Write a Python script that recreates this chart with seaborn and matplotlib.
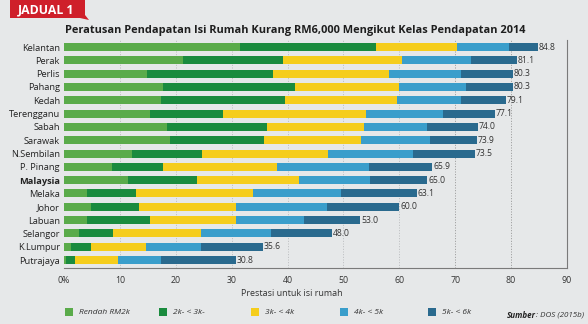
import matplotlib
matplotlib.use("Agg")
import matplotlib.pyplot as plt
from matplotlib.patches import Polygon, Rectangle
import seaborn as sns
import pandas as pd
import numpy as np

# ---- data -------------------------------------------------------------
states = ["Kelantan", "Perak", "Perlis", "Pahang", "Kedah", "Terengganu",
          "Sabah", "Sarawak", "N.Sembilan", "P. Pinang", "Malaysia", "Melaka",
          "Johor", "Labuan", "Selangor", "K.Lumpur", "Putrajaya"]

below_2k = [31.5, 21.3, 14.8, 17.8, 17.4, 15.4, 18.5, 19.0, 12.2, 8.6, 11.5, 4.1, 4.8, 4.2, 2.7, 1.2, 0.3]
k2_3k    = [24.4, 17.9, 22.6, 23.5, 22.1, 13.1, 17.9, 16.7, 12.5, 9.1, 12.3, 8.8, 8.6, 11.1, 6.0, 3.6, 1.6]
k3_4k    = [14.5, 21.2, 20.8, 18.7, 20.1, 25.6, 17.2, 17.5, 22.6, 20.5, 18.3, 21.0, 17.3, 15.5, 15.8, 9.9, 7.7]
k4_5k    = [9.2, 12.5, 12.8, 11.9, 11.4, 13.8, 11.4, 12.2, 15.1, 16.3, 12.7, 15.6, 16.3, 12.2, 12.6, 9.9, 7.8]
k5_6k    = [5.2, 8.2, 9.3, 8.4, 8.1, 9.2, 9.0, 8.5, 11.1, 11.4, 10.2, 13.6, 13.0, 10.0, 10.9, 11.0, 13.4]

totals = [84.8, 81.1, 80.3, 80.3, 79.1, 77.1, 74.0, 73.9, 73.5, 65.9, 65.0,
          63.1, 60.0, 53.0, 48.0, 35.6, 30.8]

classes = ["Rendah RM2k", "2k- < 3k-", "3k- < 4k", "4k- < 5k", "5k- < 6k"]
colors = ["#5aab4a", "#1a8b3e", "#f5cd1c", "#3a9ecb", "#2a6a8e"]
xticks = [0, 10, 20, 30, 40, 50, 60, 70, 80, 90]
xtick_labels = ["0%", "10", "20", "30", "40", "50", "60", "70", "80", "90"]

# ---- style ------------------------------------------------------------
bg = "#e6e8e9"
sns.set_theme(style="white")
plt.rcParams["font.family"] = ["Open Sans", "DejaVu Sans"]
plt.rcParams["figure.facecolor"] = bg
plt.rcParams["axes.facecolor"] = bg

W, H = 588, 324
fig = plt.figure(figsize=(W / 100, H / 100), dpi=100)
ax = fig.add_axes([64 / W, 1 - 268 / H, (567 - 64) / W, (268 - 40) / H])

# cumulative widths, drawn longest first so each shorter bar sits on top
segs = np.array([below_2k, k2_3k, k3_4k, k4_5k, k5_6k])
cum = np.cumsum(segs, axis=0)
df = pd.DataFrame({"state": states})
for i in range(len(classes)):
    df[f"c{i}"] = cum[i]

for i in reversed(range(len(classes))):
    sns.barplot(data=df, x=f"c{i}", y="state", order=states, orient="h",
                color=colors[i], saturation=1, width=0.6, linewidth=0,
                ax=ax, zorder=3)

# value labels at the bar ends
for yi, t in enumerate(totals):
    ax.text(t + 0.15, yi, f"{t:.1f}", va="center", ha="left",
            fontsize=6.2, color="#333333", zorder=4)

# axes
ax.set_xlim(0, 90)
ax.set_ylim(len(states) - 1 + 0.6, -0.53)
ax.set_xticks(xticks)
ax.set_xticklabels(xtick_labels)
ax.set_xlabel("")
ax.set_ylabel("")
ax.tick_params(axis="x", direction="out", length=4, width=0.6, color="#777777",
               labelsize=6.3, labelcolor="#333333", pad=2)
ax.tick_params(axis="y", length=0, labelsize=6.7, labelcolor="#222222", pad=3)
for lbl in ax.get_yticklabels():
    if lbl.get_text() == "Malaysia":
        lbl.set_fontweight("bold")

# dotted reference lines; 70 and 80 are stronger
for xv in xticks[1:-1]:
    strong = xv in (70, 80)
    ax.axvline(xv, linestyle=(0, (1.2, 2)), linewidth=0.6,
               color="#8a8a8a" if strong else "#b4b6b8", zorder=0)
ax.grid(False)
for side in ["top", "left"]:
    ax.spines[side].set_visible(False)
for side in ["bottom", "right"]:
    ax.spines[side].set_color("#7a7a7a")
    ax.spines[side].set_linewidth(0.8)

# title
fig.text(65 / W, 1 - 31 / H, "Peratusan Pendapatan Isi Rumah Kurang RM6,000 Mengikut Kelas Pendapatan 2014",
         fontsize=7.9, fontweight="bold", color="#1e1e1e", va="center", ha="left")

# red table tag
def px(x, y):
    return (x / W, 1 - y / H)

tag = Polygon([px(10, 0), px(85, 0), px(85, 15), px(89, 20), px(80, 18), px(10, 18)],
              closed=True, transform=fig.transFigure, facecolor="#cf1f2a",
              edgecolor="none")
fig.patches.append(tag)
fig.text(18 / W, 1 - 9.5 / H, "JADUAL 1", fontsize=8.8, fontweight="bold",
         color="white", va="center", ha="left")

# axis caption
fig.text(292 / W, 1 - 293 / H, "Prestasi untuk isi rumah", fontsize=6.5,
         color="#333333", ha="center", va="center")

# legend
leg_x = [65, 159, 251, 340, 428]
for x0, lab, col in zip(leg_x, classes, colors):
    fig.patches.append(Rectangle(px(x0, 316), 8 / W, 8 / H, transform=fig.transFigure,
                                 facecolor=col, edgecolor="none"))
    fig.text((x0 + 14) / W, 1 - 312 / H, lab, fontsize=6, style="italic",
             color="#333333", ha="left", va="center")

# source line: bold "Sumber" followed by the reference
src_bold = fig.text(507 / W, 1 - 315 / H, "Sumber", fontsize=5.8, style="italic",
                    fontweight="bold", color="#222222", ha="left", va="center")
fig.canvas.draw()
bb = src_bold.get_window_extent()
fig.text(bb.x1 / (W), 1 - 315 / H, ": DOS (2015b)", fontsize=5.8, style="italic",
         color="#333333", ha="left", va="center")

fig.savefig("out.png", dpi=100, facecolor=bg)
